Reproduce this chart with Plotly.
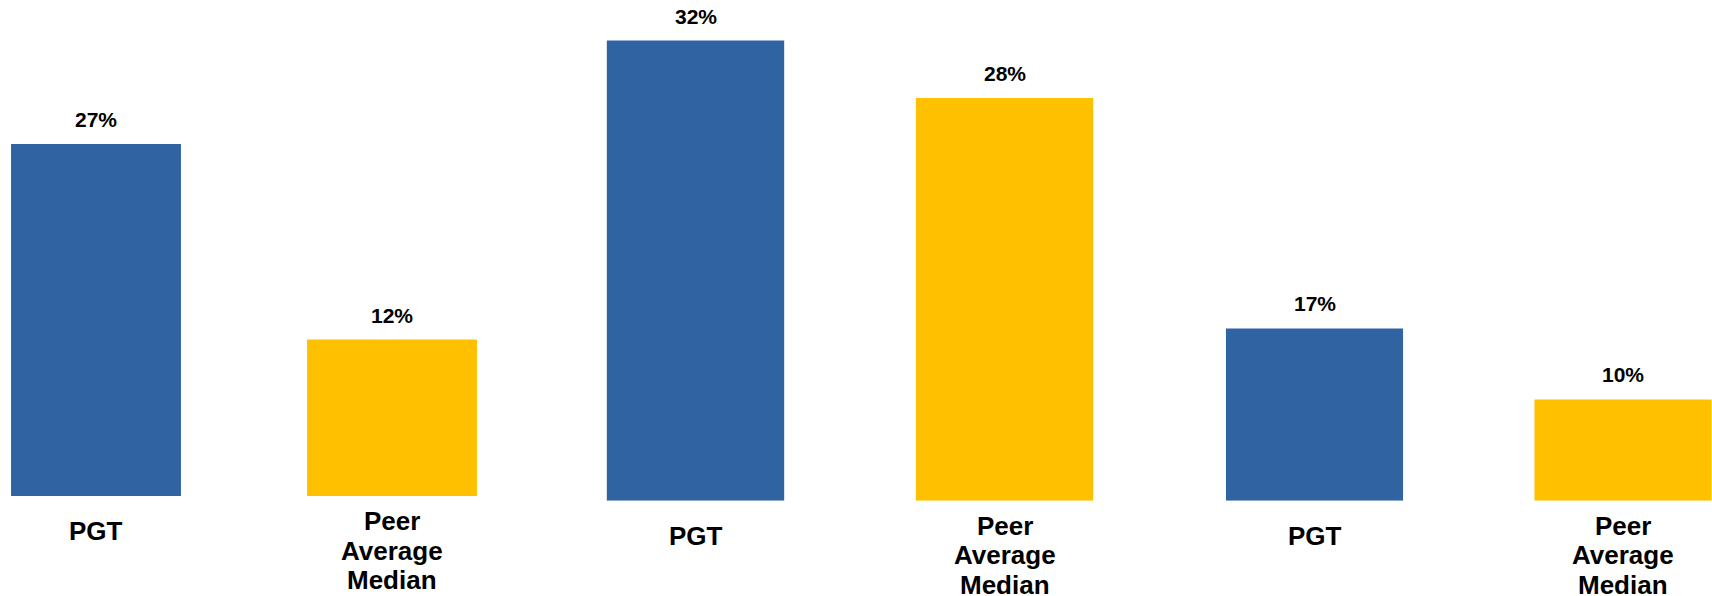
import plotly.graph_objects as go

# ---- data ----
categories = ["PGT", "Peer<br>Average<br>Median"]
panel1_values = [27, 12]
panel2_values = [32, 28]
panel3_values = [17, 10]
panels = [panel1_values, panel2_values, panel3_values]

bar_colors = ["#3063A2", "#FFC000"]

# ---- layout constants (pixels) ----
W, H = 1712, 596
# per panel: (domain left px, domain right px, first category centre px, category spacing px,
#             baseline px, pixels per percent)
panel_geom = [
    (0, 540, 96, 296, 496, 13.04),
    (541, 1159, 695.5, 309, 500.7, 14.38),
    (1160, 1712, 1314.5, 308.5, 500.7, 10.13),
]
label_shift = {"PGT": -18, "Peer<br>Average<br>Median": -8}
LINE_STEP = 29.5
FONT = "Liberation Sans, Arial, sans-serif"

fig = go.Figure()
annotations = []
for i, (vals, g) in enumerate(zip(panels, panel_geom)):
    n = "" if i == 0 else str(i + 1)
    xa, ya = "x" + n, "y" + n
    left, right, c0, sp, base, ppp = g
    fig.add_trace(go.Bar(
        x=categories, y=vals, xaxis=xa, yaxis=ya,
        marker=dict(color=bar_colors, line=dict(width=0)),
        showlegend=False, hoverinfo="skip",
    ))
    fig.update_layout(**{
        "xaxis" + n: dict(
            domain=[left / W, right / W],
            range=[-(c0 - left) / sp, (right - c0) / sp],
            anchor=ya, showgrid=False, zeroline=False, showline=False,
            ticks="", showticklabels=False,
            automargin=False, fixedrange=True,
        ),
        "yaxis" + n: dict(
            domain=[(H - base) / H, 1],
            range=[0, base / ppp],
            anchor=xa, showgrid=False, zeroline=False, showline=False,
            showticklabels=False, ticks="", automargin=False, fixedrange=True,
        ),
    })
    for c, v in zip(categories, vals):
        annotations.append(dict(
            x=c, y=v, xref=xa, yref=ya, text=f"<b>{v}%</b>",
            showarrow=False, yanchor="bottom", yshift=11,
            font=dict(family=FONT, size=21, color="#000000"),
        ))
        for k, line in enumerate(c.split("<br>")):
            annotations.append(dict(
                x=c, y=0, xref=xa, yref=ya, text=f"<b>{line}</b>",
                showarrow=False, yanchor="top",
                yshift=label_shift[c] - k * LINE_STEP,
                font=dict(family=FONT, size=26, color="#000000"),
            ))

fig.update_layout(
    width=W, height=H,
    margin=dict(l=0, r=0, t=0, b=0),
    paper_bgcolor="white", plot_bgcolor="white",
    bargap=0.426,
    annotations=annotations,
    showlegend=False,
)

fig.write_html(
    "out.html",
    config={"displayModeBar": False},
    post_script="document.body.style.margin='0px';document.documentElement.style.overflow='hidden';",
)
